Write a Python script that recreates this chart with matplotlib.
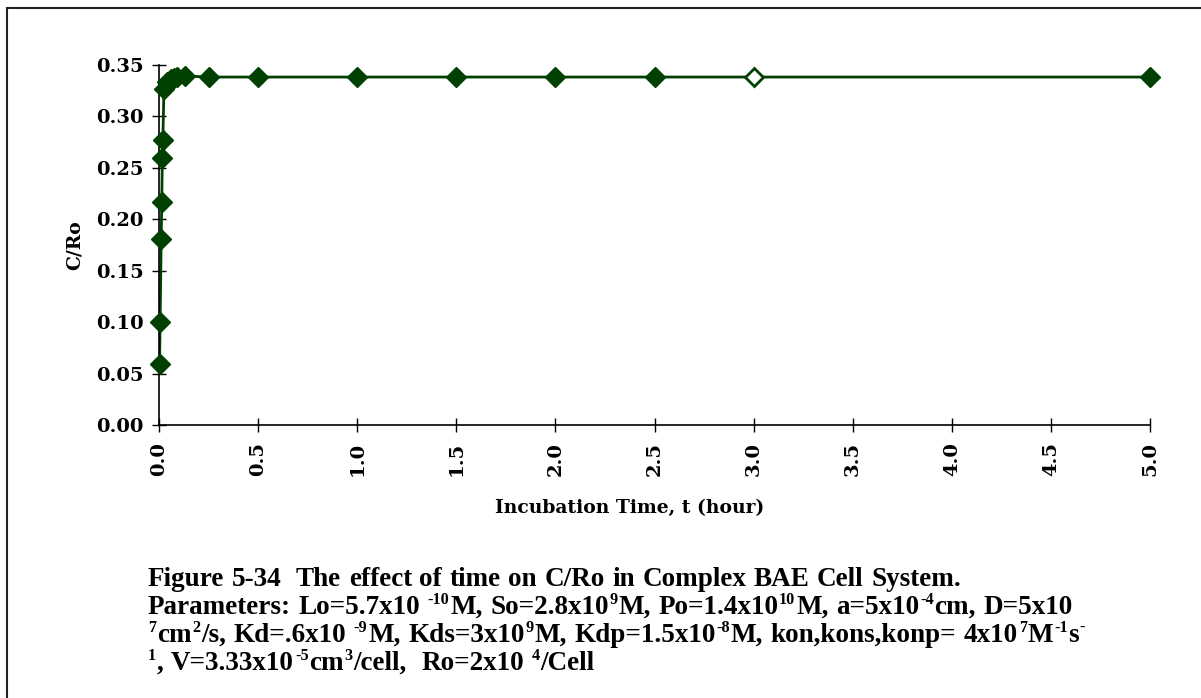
import re
import matplotlib
matplotlib.use("Agg")
import matplotlib.pyplot as plt
from matplotlib.patches import Rectangle
from matplotlib.transforms import IdentityTransform

# Incubation time (hours) and fractional receptor occupancy C/Ro
time_h = [0.0028, 0.0056, 0.0111, 0.0139, 0.0167, 0.0194, 0.0250, 0.0417,
          0.0583, 0.0750, 0.0917, 0.1333, 0.2500, 0.5, 1.0, 1.5, 2.0, 2.5,
          3.0, 5.0]
c_ro = [0.059, 0.100, 0.181, 0.217, 0.259, 0.277, 0.326, 0.333, 0.336,
        0.337, 0.338, 0.339, 0.338, 0.338, 0.338, 0.338, 0.338, 0.338,
        0.338, 0.338]
open_index = 18  # t = 3.0 h drawn with an open marker

x_ticks = [0.0, 0.5, 1.0, 1.5, 2.0, 2.5, 3.0, 3.5, 4.0, 4.5, 5.0]
y_ticks = [0.00, 0.05, 0.10, 0.15, 0.20, 0.25, 0.30, 0.35]

x_label = "Incubation Time, t (hour)"
y_label = "C/Ro"

# caption lines; ^{...} marks superscript text
caption_lines = [
    "Figure 5-34  The effect of time on C/Ro in Complex BAE Cell System.",
    "Parameters: Lo=5.7x10 ^{-10}M, So=2.8x10^{9}M, Po=1.4x10^{10}M, "
    "a=5x10^{-4}cm, D=5x10",
    "^{7}cm^{2}/s, Kd=.6x10 ^{-9}M, Kds=3x10^{9}M, Kdp=1.5x10^{-8}M, "
    "kon,kons,konp= 4x10^{7}M^{-1}s^{-}",
    "^{1}, V=3.33x10^{-5}cm^{3}/cell,  Ro=2x10 ^{4}/Cell",
]

CAP_FONT = "Liberation Serif"
AX_FONT = "DejaVu Serif"
GREEN = "#004000"
W, H = 1201, 698

plt.rcParams["font.family"] = CAP_FONT
plt.rcParams["font.weight"] = "bold"

fig = plt.figure(figsize=(W / 100, H / 100), dpi=100)

# page frame
fig.patches.append(Rectangle((7 / W, -0.05), 1.2, 1 - 8 / H + 0.05,
                             transform=fig.transFigure, fill=False,
                             edgecolor="#222222", linewidth=1.5))

ax = fig.add_axes([159 / W, 1 - 425 / H, (1150 - 159) / W,
                   (425 - 64.7) / H])

ax.plot(time_h, c_ro, color=GREEN, linewidth=2, zorder=2)
filled_t = [t for i, t in enumerate(time_h) if i != open_index]
filled_v = [v for i, v in enumerate(c_ro) if i != open_index]
ax.plot(filled_t, filled_v, linestyle="none", marker="D", markersize=10.5,
        color=GREEN, markeredgecolor=GREEN, zorder=3, clip_on=False)
ax.plot([time_h[open_index]], [c_ro[open_index]], linestyle="none",
        marker="D", markersize=9.5, markerfacecolor="white",
        markeredgecolor=GREEN, markeredgewidth=2, zorder=3, clip_on=False)

ax.set_xlim(0, 5.0)
ax.set_ylim(0, 0.35)
ax.set_xticks(x_ticks)
ax.set_xticklabels([f"{v:.1f}" for v in x_ticks], rotation=90,
                   family=AX_FONT, fontweight="bold")
ax.set_yticks(y_ticks)
ax.set_yticklabels([f"{v:.2f}" for v in y_ticks], family=AX_FONT,
                   fontweight="bold")
ax.tick_params(axis="both", direction="inout", length=10, width=1,
               labelsize=14)
ax.tick_params(axis="y", pad=6)
ax.tick_params(axis="x", pad=7)
for spine in ("top", "right"):
    ax.spines[spine].set_visible(False)
for spine in ("left", "bottom"):
    ax.spines[spine].set_linewidth(1.2)
ax.set_facecolor("none")

fig.text(75 / W, 1 - 245 / H, y_label, rotation=90, ha="center",
         va="center", fontsize=13.5, fontweight="bold", family=AX_FONT)
fig.text(630 / W, 1 - 508 / H, x_label, ha="center", va="center",
         fontsize=13.5, fontweight="bold", family=AX_FONT)

# ---- caption, laid out segment by segment with superscripts ----
renderer = fig.canvas.get_renderer()
CAP_SIZE = 19.5
SUP_SIZE = CAP_SIZE * 0.6
SUP_RISE = CAP_SIZE * 100 / 72 * 0.36


def text_width(s, size):
    t = fig.text(0, 0, s, fontsize=size, fontweight="bold", family=CAP_FONT,
                 transform=IdentityTransform())
    w = t.get_window_extent(renderer).width
    t.remove()
    return w


def segments(word):
    parts = re.split(r"\^\{([^}]*)\}", word)
    return [(p, i % 2 == 1) for i, p in enumerate(parts) if p]


space_w = text_width("a a", CAP_SIZE) - text_width("aa", CAP_SIZE)

for i, line in enumerate(caption_lines):
    x = 148
    base = H - (586 + 28 * i)
    for tok in [t for t in re.split(r"( +)", line) if t]:
        if not tok.strip():
            x += len(tok) * space_w
            continue
        for s, sup in segments(tok):
            size = SUP_SIZE if sup else CAP_SIZE
            y = base + (SUP_RISE if sup else 0)
            fig.text(x, y, s, fontsize=size, fontweight="bold",
                     family=CAP_FONT, transform=IdentityTransform(),
                     ha="left", va="baseline")
            x += text_width(s, size) + 0.8

fig.savefig("out.png", dpi=100)
